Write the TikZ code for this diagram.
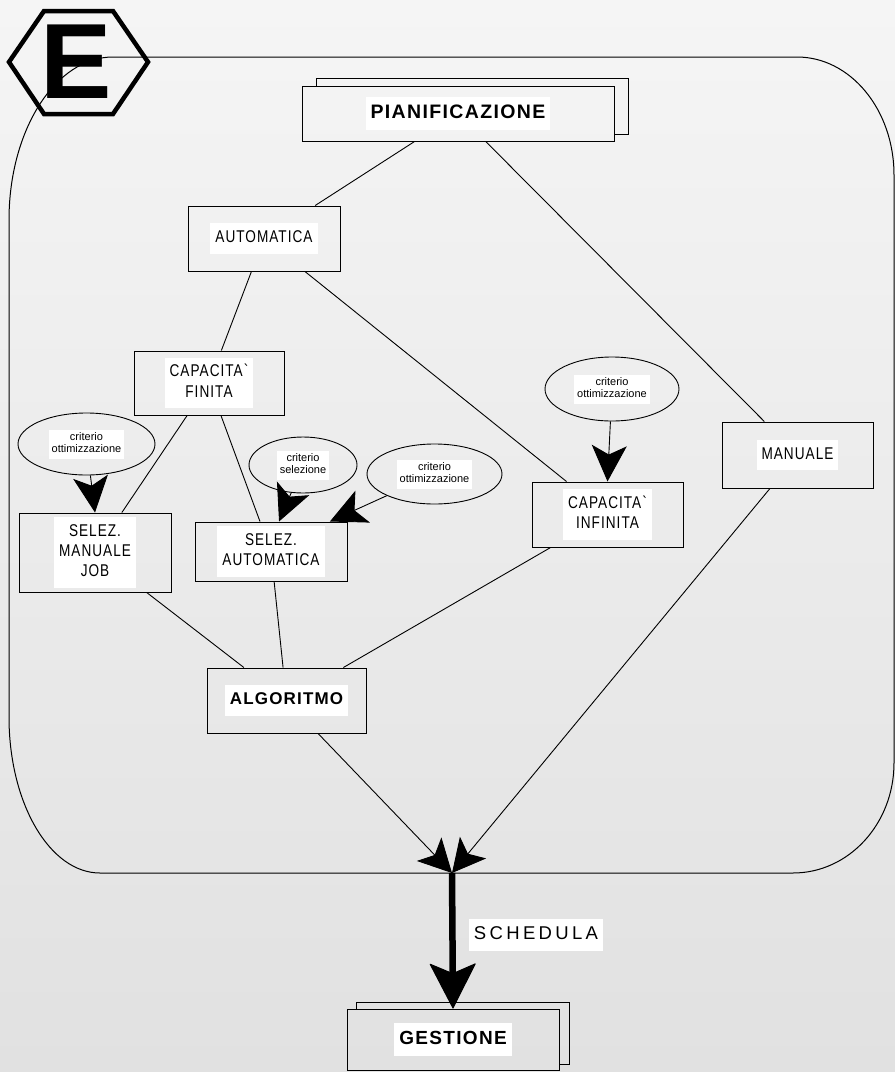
\documentclass[tikz,border=0pt]{standalone}
\usepackage{fontspec}
\setmainfont{Liberation Sans}
\newfontfamily\rgf{Liberation Sans}[FakeStretch=0.8,LetterSpace=6]
\newfontfamily\bdf{Liberation Sans}[LetterSpace=7]
\newfontfamily\smf{Liberation Sans}
\newfontfamily\schf{Liberation Sans}[LetterSpace=18]
\usetikzlibrary{shapes.geometric,arrows.meta,calc}
\definecolor{bgA}{RGB}{245,245,245}
\definecolor{bgB}{RGB}{225,225,225}
\setlength\fboxsep{5pt}
\newcommand\lbl[1]{\colorbox{white}{\begin{tabular}{@{}c@{}}#1\end{tabular}}}
\newcommand\elbl[1]{{\setlength\fboxsep{3pt}\lbl{#1}}}
\tikzset{
  rbox/.style={draw, line width=1pt, inner sep=0pt, font={\rgf\fontsize{17}{20.4}\selectfont}},
  bbox/.style={draw, line width=1pt, inner sep=0pt, font={\bdf\bfseries\fontsize{17}{20.4}\selectfont}},
  ell/.style={ellipse, draw, line width=0.9pt, inner sep=0pt, font={\smf\fontsize{11}{11.5}\selectfont}},
  conn/.style={line width=0.9pt},
  bigtip/.style={line width=0.9pt, -{Stealth[length=36pt,width=35pt,inset=9pt]}},
  bottip/.style={line width=0.9pt, -{Stealth[length=33pt,width=34pt,inset=8pt]}},
  heavy/.style={line width=6.5pt, -{Stealth[length=46pt,width=47pt,inset=10pt,line width=1pt,round]}},
  frame/.style={line width=1pt},
}
\begin{document}
\begin{tikzpicture}[x=1pt,y=-1pt]
\useasboundingbox (0,0) rectangle (895,1072);
\shade[shading angle=-30, top color=bgA, bottom color=bgB] (0,0) rectangle (895,1072);

% big rounded frame
\draw[frame] (113,57) -- (797,57)
  arc[start angle=270, end angle=360, x radius=97, y radius=118] -- (894,763)
  arc[start angle=0, end angle=90, x radius=101, y radius=110] -- (100,873)
  arc[start angle=90, end angle=180, x radius=91, y radius=156] -- (9,220)
  arc[start angle=180, end angle=270, x radius=104, y radius=163] -- cycle;

% logo
\draw[line width=4.5pt, line join=miter] (9,62) -- (44,11) -- (113,11) -- (148,62) -- (113,114) -- (44,114) -- cycle;
\node[inner sep=0pt, font={\smf\bfseries\fontsize{107}{110}\selectfont}] (logo) at (76,61.5) {E};

% boxes
\node[bbox, minimum width=312pt, minimum height=55pt, font={\bdf\bfseries\fontsize{19.5}{23}\selectfont}] (pian) at (458,113.5) {\lbl{PIANIFICAZIONE}};
\draw[frame] ($(pian.north west)+(15,0)$) -- ++(0,-7) -| ($(pian.south east)+(14,-7)$) -- ($(pian.south east)+(0,-7)$);

\node[rbox, minimum width=152pt, minimum height=65pt] (auto) at (264,238.5) {\lbl{AUTOMATICA}};
\node[rbox, minimum width=150pt, minimum height=64pt] (cf) at (209,383) {\lbl{CAPACITA`\\FINITA}};
\node[rbox, minimum width=152pt, minimum height=79pt] (sm) at (95,552.5) {\lbl{SELEZ.\\MANUALE\\JOB}};
\node[rbox, minimum width=152pt, minimum height=59pt] (sa) at (271,551.5) {\lbl{SELEZ.\\AUTOMATICA}};
\node[rbox, minimum width=151pt, minimum height=65pt] (ci) at (607.5,514.5) {\lbl{CAPACITA`\\INFINITA}};
\node[rbox, minimum width=151pt, minimum height=66pt] (man) at (797.5,455) {\lbl{MANUALE}};
\node[bbox, minimum width=159pt, minimum height=65pt] (alg) at (286.5,700.5) {\lbl{ALGORITMO}};

\node[bbox, minimum width=212pt, minimum height=61pt, font={\bdf\bfseries\fontsize{19}{22.8}\selectfont}] (ges) at (453,1039.5) {\lbl{GESTIONE}};
\draw[frame] ($(ges.north west)+(10,0)$) -- ++(0,-6) -| ($(ges.south east)+(10,-6)$) -- ($(ges.south east)+(0,-6)$);

% ellipses
\node[ell, minimum width=137pt, minimum height=62pt] (e1) at (86.5,444) {\elbl{criterio\\ottimizzazione}};
\node[ell, minimum width=108pt, minimum height=56pt] (e2) at (303,465) {\elbl{criterio\\selezione}};
\node[ell, minimum width=135pt, minimum height=60pt] (e3) at (434.5,474) {\elbl{criterio\\ottimizzazione}};
\node[ell, minimum width=134pt, minimum height=64pt] (e4) at (612,389) {\elbl{criterio\\ottimizzazione}};

% connectors
\draw[conn] (pian) -- (auto);
\draw[conn] (pian) -- (man);
\draw[conn] (auto) -- (cf);
\draw[conn] (auto) -- (ci);
\draw[conn] (cf) -- (sm);
\draw[conn] (cf) -- (sa);
\draw[conn] (sm) -- (alg);
\draw[conn] (sa) -- (alg);
\draw[conn] (ci) -- (alg);

\draw[bigtip] (e1) -- (sm.north);
\draw[bigtip] (e2) -- (sa.75);
\draw[bigtip] (e3) -- (sa.27);
\draw[bigtip] (e4) -- (ci.north);

\coordinate (J) at (452,873);
\draw[bottip] (alg) -- (J);
\draw[bottip] (man) -- (J);
\draw[heavy] (J) -- (ges.north);
\node[inner sep=0pt, font={\schf\fontsize{18.5}{22}\selectfont}] (sched) at (536,935) {\lbl{SCHEDULA}};
\end{tikzpicture}
\end{document}
